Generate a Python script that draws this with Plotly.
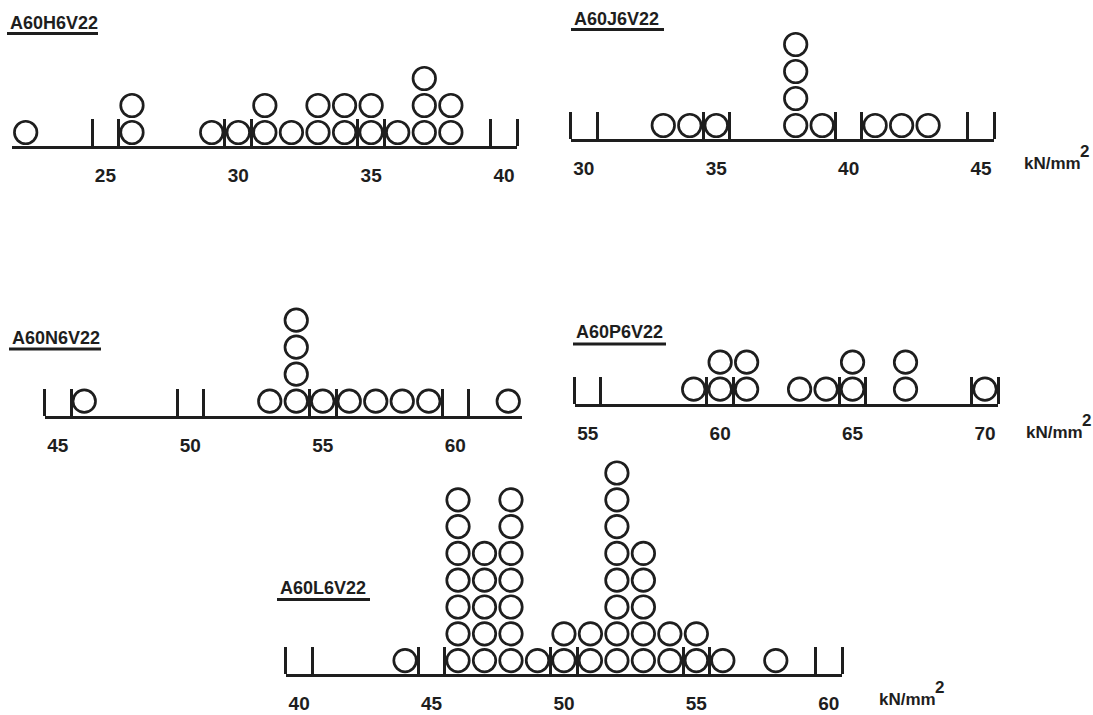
import plotly.graph_objects as go

W, H = 1093, 715

# ---- data: value -> number of specimens (stacked circles) ----
h6_vals = [22, 26, 29, 30, 31, 32, 33, 34, 35, 36, 37, 38]
h6_cnts = [1, 2, 1, 1, 2, 1, 2, 2, 2, 1, 3, 2]
h6_ticks = [25, 30, 35, 40]

j6_vals = [33, 34, 35, 38, 39, 41, 42, 43]
j6_cnts = [1, 1, 1, 4, 1, 1, 1, 1]
j6_ticks = [30, 35, 40, 45]

n6_vals = [46, 53, 54, 55, 56, 57, 58, 59, 62]
n6_cnts = [1, 1, 4, 1, 1, 1, 1, 1, 1]
n6_ticks = [45, 50, 55, 60]

p6_vals = [59, 60, 61, 63, 64, 65, 67, 70]
p6_cnts = [1, 2, 2, 1, 1, 2, 2, 1]
p6_ticks = [55, 60, 65, 70]

l6_vals = [44, 46, 47, 48, 49, 50, 51, 52, 53, 54, 55, 56, 58]
l6_cnts = [1, 7, 5, 7, 1, 2, 2, 8, 5, 2, 2, 1, 1]
l6_ticks = [40, 45, 50, 55, 60]

names = ["A60H6V22", "A60J6V22", "A60N6V22", "A60P6V22", "A60L6V22"]

# ---- layout of each panel (pixels) ----
panels = [
    dict(name=names[0], vals=h6_vals, cnts=h6_cnts, ticks=h6_ticks, xr=[21.5, 40.5], px=[12.4, 517.3],
         line_y=146, sp=27, off=0.5, rows=4, unit=None,
         title_xy=(8, 23), ul=(7, 98, 33.5)),
    dict(name=names[1], vals=j6_vals, cnts=j6_cnts, ticks=j6_ticks, xr=[29.5, 45.5], px=[570.6, 994.3],
         line_y=139, sp=27, off=0.5, rows=4, unit=((1022, 163), (1078, 152)),
         title_xy=(572, 19), ul=(571, 664, 29.5)),
    dict(name=names[2], vals=n6_vals, cnts=n6_cnts, ticks=n6_ticks, xr=[44.5, 62.5], px=[44.5, 521.5],
         line_y=416, sp=27, off=0.55, rows=4, unit=None,
         title_xy=(10, 338), ul=(9, 101, 349)),
    dict(name=names[3], vals=p6_vals, cnts=p6_cnts, ticks=p6_ticks, xr=[54.5, 70.5], px=[574.5, 998.2],
         line_y=404, sp=27, off=0.55, rows=2, unit=((1024, 432), (1080, 421)),
         title_xy=(574, 332), ul=(573, 666, 344)),
    dict(name=names[4], vals=l6_vals, cnts=l6_cnts, ticks=l6_ticks, xr=[39.5, 60.5], px=[285.9, 842.0],
         line_y=674, sp=26.8, off=0.5, rows=8, unit=((877, 699), (933, 687)),
         title_xy=(278, 587.5), ul=(277, 370, 599.5)),
]

INK = "#1e1e1e"
fig = go.Figure()
annotations = []
shapes = []

for i, p in enumerate(panels, start=1):
    xs, ys = [], []
    for v, c in zip(p["vals"], p["cnts"]):
        for k in range(c):
            xs.append(v)
            ys.append(k)
    xa = "x" if i == 1 else f"x{i}"
    ya = "y" if i == 1 else f"y{i}"
    fig.add_trace(go.Scatter(
        x=xs, y=ys, mode="markers", xaxis=xa, yaxis=ya, showlegend=False,
        marker=dict(symbol="circle-open", size=22.5, color=INK,
                    line=dict(width=2.7, color=INK)),
        hoverinfo="x"))

    top_px = p["line_y"] - (p["rows"] - 0.5 + p["off"]) * p["sp"]
    minor_vals = []
    for t in p["ticks"]:
        minor_vals += [t - 0.5, t + 0.5]
    xkey = "xaxis" if i == 1 else f"xaxis{i}"
    ykey = "yaxis" if i == 1 else f"yaxis{i}"
    fig.update_layout({
        xkey: dict(
            domain=[p["px"][0] / W, p["px"][1] / W], range=p["xr"], anchor=ya,
            showline=True, linecolor=INK, linewidth=2.5, showgrid=False, zeroline=False,
            tickmode="array", tickvals=p["ticks"], ticks="",
            ticklabelstandoff=10,
            tickfont=dict(family="Liberation Sans", size=19, color=INK, weight="bold"),
            minor=dict(tickmode="array", tickvals=minor_vals, ticks="inside",
                       ticklen=27, tickwidth=2.5, tickcolor=INK, showgrid=False),
            fixedrange=True),
        ykey: dict(
            domain=[1 - p["line_y"] / H, 1 - top_px / H], range=[-p["off"], p["rows"] - 0.5],
            anchor=xa, visible=False, showgrid=False, zeroline=False, fixedrange=True),
    })

    tx, ty = p["title_xy"]
    annotations.append(dict(
        text=p["name"], xref="paper", yref="paper", x=tx / W, y=1 - ty / H,
        xanchor="left", yanchor="middle", showarrow=False,
        font=dict(family="Liberation Sans", size=18, color=INK, weight="bold")))
    x0, x1, uy = p["ul"]
    shapes.append(dict(type="line", xref="paper", yref="paper",
                       x0=x0 / W, x1=x1 / W, y0=1 - uy / H, y1=1 - uy / H,
                       line=dict(color=INK, width=3)))
    if p["unit"]:
        (ux, uy2), (sx, sy) = p["unit"]
        annotations.append(dict(
            text="kN/mm", xref="paper", yref="paper", x=ux / W, y=1 - uy2 / H,
            xanchor="left", yanchor="middle", showarrow=False,
            font=dict(family="Liberation Sans", size=17, color=INK, weight="bold")))
        annotations.append(dict(
            text="2", xref="paper", yref="paper", x=sx / W, y=1 - sy / H,
            xanchor="left", yanchor="middle", showarrow=False,
            font=dict(family="Liberation Sans", size=17, color=INK, weight="bold")))

fig.update_layout(
    width=W, height=H, margin=dict(l=0, r=0, t=0, b=0),
    paper_bgcolor="white", plot_bgcolor="rgba(0,0,0,0)",
    annotations=annotations, shapes=shapes, showlegend=False)

fig.write_html("out.html", config={"displayModeBar": False})
